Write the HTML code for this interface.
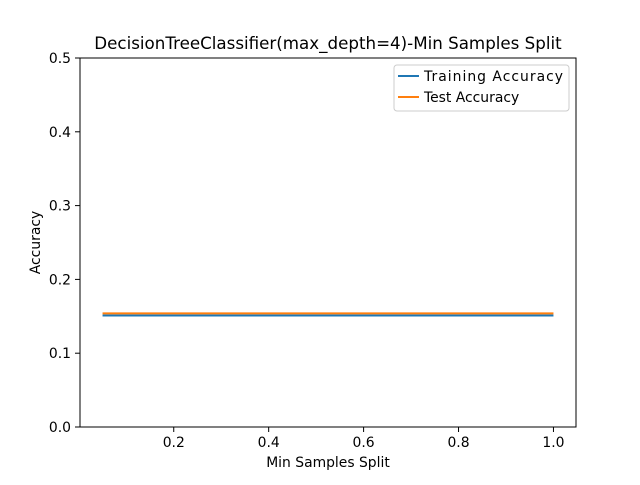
<!DOCTYPE html>
<html><head><meta charset="utf-8"><style>
body{margin:0;background:#fff;font-family:"Liberation Sans","DejaVu Sans",sans-serif}
text{font-family:"DejaVu Sans","Liberation Sans",sans-serif}
</style></head><body>
<svg id="chart" width="640" height="480" xmlns="http://www.w3.org/2000/svg">
<rect width="640" height="480" fill="#fff"/>
<g id="plot"></g>
</svg>
<script>
const xValues=[0.05,0.1,0.15,0.2,0.25,0.3,0.35,0.4,0.45,0.5,0.55,0.6,0.65,0.7,0.75,0.8,0.85,0.9,0.95,1.0];
const trainAcc=[0.151,0.151,0.151,0.151,0.151,0.151,0.151,0.151,0.151,0.151,0.151,0.151,0.151,0.151,0.151,0.151,0.151,0.151,0.151,0.151];
const testAcc=[0.154,0.154,0.154,0.154,0.154,0.154,0.154,0.154,0.154,0.154,0.154,0.154,0.154,0.154,0.154,0.154,0.154,0.154,0.154,0.154];
const xTicks=[0.2,0.4,0.6,0.8,1.0];
const xTickLabels=["0.2","0.4","0.6","0.8","1.0"];
const yTicks=[0,0.1,0.2,0.3,0.4,0.5];
const yTickLabels=["0.0","0.1","0.2","0.3","0.4","0.5"];
const L=80,R=576,T=58,B=427;
const xmin=0.0025,xmax=1.0475,ymin=0,ymax=0.5;
const sx=v=>L+(v-xmin)/(xmax-xmin)*(R-L);
const sy=v=>B-(v-ymin)/(ymax-ymin)*(B-T);
const NS="http://www.w3.org/2000/svg";
const g=document.getElementById('plot');
function mk(tag,attrs,parent){const e=document.createElementNS(NS,tag);for(const k in attrs)e.setAttribute(k,attrs[k]);(parent||g).appendChild(e);return e;}
function txt(s,attrs){const e=mk('text',attrs);e.textContent=s;return e;}
function line(vals,color,name){
 const p=mk('polyline',{points:xValues.map((x,i)=>sx(x)+','+sy(vals[i])).join(' '),fill:'none',stroke:color,'stroke-width':2});
 
 
}
line(trainAcc,'#1f77b4','training-accuracy-line');
line(testAcc,'#ff7f0e','test-accuracy-line');
const frame=mk('rect',{x:L,y:T,width:R-L,height:B-T,fill:'none',stroke:'#000','stroke-width':1});


xTicks.forEach((v,i)=>{
 mk('line',{x1:sx(v),x2:sx(v),y1:B,y2:B+5,stroke:'#000','stroke-width':1});
 const t=txt(xTickLabels[i],{x:sx(v),y:B+20,'text-anchor':'middle','font-size':13.9});
 
 
});
yTicks.forEach((v,i)=>{
 mk('line',{x1:L-5,x2:L,y1:sy(v),y2:sy(v),stroke:'#000','stroke-width':1});
 const t=txt(yTickLabels[i],{x:L-9,y:sy(v)+5,'text-anchor':'end','font-size':13.9});
 
 
});
let t=txt('Min Samples Split',{x:(L+R)/2,y:467,'text-anchor':'middle','font-size':13.9});


t=txt('Accuracy',{x:40,y:(T+B)/2,'text-anchor':'middle','font-size':13.9,transform:'rotate(-90 40 '+((T+B)/2)+')'});


t=txt('DecisionTreeClassifier(max_depth=4)-Min Samples Split',{x:(L+R)/2,y:49,'text-anchor':'middle','font-size':16.7});


const lg=mk('g',{});


mk('rect',{x:394,y:65,width:175,height:46,rx:3,fill:'#fff',stroke:'#ccc','stroke-width':1},lg);
mk('line',{x1:398,x2:419,y1:76,y2:76,stroke:'#1f77b4','stroke-width':2},lg);
let e=mk('text',{x:424,y:81,'font-size':13.9,textLength:139},lg);e.textContent='Training Accuracy';


mk('line',{x1:398,x2:419,y1:97,y2:97,stroke:'#ff7f0e','stroke-width':2},lg);
e=mk('text',{x:424,y:102,'font-size':13.9},lg);e.textContent='Test Accuracy';


</script>
</body></html>
